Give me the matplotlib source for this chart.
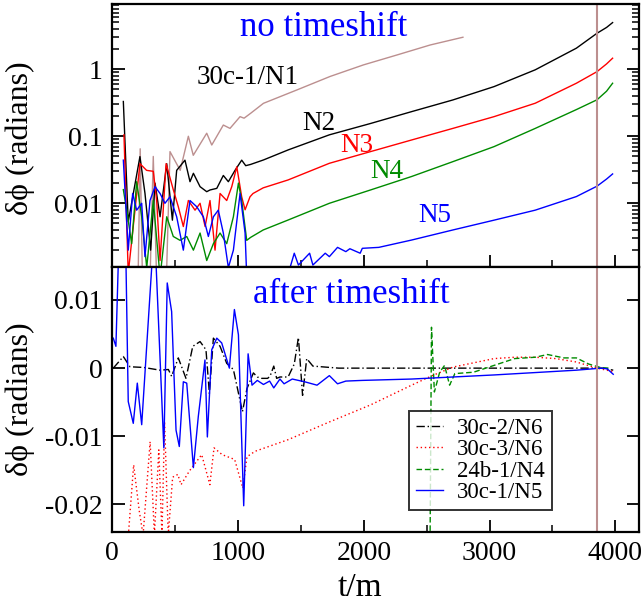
import matplotlib
matplotlib.use("Agg")
import matplotlib.pyplot as plt
from matplotlib.ticker import FixedLocator, NullFormatter, LogLocator, MultipleLocator

plt.rcParams['font.family'] = ['Liberation Serif', 'DejaVu Serif']
plt.rcParams['axes.unicode_minus'] = False

# ---- top panel: no timeshift (log scale) ----
t_n1 = [205, 222, 240, 300, 326, 353, 430, 459, 540, 605, 644, 751, 791, 883, 936, 1016, 1048, 1100,
        1202, 1467, 1732, 1997, 2263, 2528, 2788]
v_n1 = [0.0007, 0.065, 0.0007, 0.0007, 0.05, 0.0007, 0.0007, 0.059, 0.031, 0.1, 0.052, 0.111, 0.074,
        0.147, 0.131, 0.196, 0.186, 0.22, 0.31, 0.49, 0.78, 1.16, 1.63, 2.3, 3.0]

t_n2 = [88, 127, 220, 260, 305, 340, 380, 433, 478, 512, 578, 618, 645, 698, 751, 777, 831, 883, 923,
        976, 1029, 1061, 1100, 1202, 1398, 1726, 2053, 2380, 2708, 3035, 3363, 3690, 3854, 3930, 3978]
v_n2 = [0.33, 0.0053, 0.0497, 0.0141, 0.002, 0.02, 0.0063, 0.039, 0.0056, 0.031, 0.044, 0.021, 0.028,
        0.0177, 0.0149, 0.0158, 0.0167, 0.026, 0.021, 0.031, 0.044, 0.0364, 0.038, 0.0443, 0.0625, 0.105,
        0.155, 0.233, 0.348, 0.55, 0.98, 2.06, 3.44, 4.2, 4.96]

t_n3 = [93, 127, 220, 273, 326, 353, 380, 428, 485, 525, 565, 605, 658, 698, 738, 777, 817, 857, 910,
        950, 990, 1029, 1056, 1095, 1119, 1200, 1398, 1726, 2053, 2380, 2708, 3035, 3363, 3690, 3854,
        3930, 3978]
v_n3 = [0.105, 0.0009, 0.039, 0.031, 0.030, 0.011, 0.0014, 0.039, 0.016, 0.0089, 0.0045, 0.011, 0.0079,
        0.01, 0.0045, 0.011, 0.002, 0.014, 0.011, 0.0177, 0.035, 0.0125, 0.008, 0.0125, 0.014, 0.017,
        0.0223, 0.0395, 0.059, 0.088, 0.131, 0.196, 0.311, 0.618, 0.92, 1.2, 1.46]

t_n4 = [88, 115, 154, 194, 234, 274, 326, 380, 433, 485, 539, 592, 645, 698, 751, 804, 857, 910, 963,
        1003, 1029, 1069, 1100, 1200, 1398, 1726, 2053, 2380, 2708, 3035, 3363, 3690, 3854, 3930, 3978]
v_n4 = [0.016, 0.0079, 0.0025, 0.021, 0.0063, 0.0011, 0.011, 0.0008, 0.0063, 0.0032, 0.0028, 0.0032,
        0.002, 0.0036, 0.0014, 0.0025, 0.0036, 0.0025, 0.0063, 0.02, 0.011, 0.0028, 0.0031, 0.004,
        0.00563, 0.01, 0.0158, 0.0251, 0.0418, 0.07, 0.131, 0.25, 0.35, 0.47, 0.618]

t_n5 = [88, 127, 162, 194, 234, 260, 300, 340, 380, 419, 459, 512, 565, 618, 671, 724, 764, 804, 843,
        883, 923, 963, 1016, 1056, 1069, 1200, 1300, 1400, 1447, 1480, 1529, 1569, 1595, 1693, 1726,
        1791, 1857, 1889, 1971, 1988, 2119, 2380, 2708, 3035, 3363, 3690, 3854, 3930, 3978]
v_n5 = [0.044, 0.002, 0.014, 0.0079, 0.01, 0.0016, 0.011, 0.0177, 0.014, 0.01, 0.0125, 0.0063, 0.002,
        0.011, 0.0089, 0.0063, 0.0032, 0.0063, 0.0079, 0.0036, 0.0011, 0.002, 0.014, 0.0036, 0.0008,
        0.0009, 0.00105, 0.0009, 0.0018, 0.0012, 0.0015, 0.0018, 0.0012, 0.0018, 0.0016, 0.0022, 0.0019,
        0.0021, 0.0018, 0.00213, 0.0022, 0.00283, 0.004, 0.0056, 0.0079, 0.0126, 0.018, 0.023, 0.0274]

# ---- bottom panel: after timeshift ----
t_a = [8, 88, 141, 250, 380, 446, 472, 525, 586, 640, 698, 745, 772, 804, 857, 910, 963, 1035, 1071,
       1122, 1153, 1188, 1235, 1254, 1284, 1307, 1333, 1398, 1447, 1480, 1513, 1546, 1595, 1800, 2500,
       3000, 3500, 3900, 3983]
v_a = [0, 0.0017, 0.0002, 0.0001, -0.0003, -0.0002, -0.0012, 0.0015, -0.0015, 0.0032, 0.0039, 0.0027,
       -0.0037, 0.0044, 0.0032, 0.0007, -0.0002, -0.0064, -0.003, -0.0007, -0.0013, -0.0015, -0.0015,
       -0.0012, 0.0003, -0.0015, -0.0013, -0.0013, 0.0006, 0.0045, -0.004, 0.0014, 0.0003, 0.0, 0.0,
       0.0, 0.0, 0.0, -0.0003]

t_b = [128, 170, 215, 245, 301, 335, 370, 395, 416, 445, 480, 521, 547, 613, 711, 776, 809, 874, 973,
       1038, 1071, 1136, 1398, 1726, 2053, 2380, 2544, 2708, 3035, 3199, 3363, 3527, 3690, 3854, 3983]
v_b = [-0.0245, -0.0142, -0.021, -0.0245, -0.0108, -0.0245, -0.012, -0.0245, -0.0079, -0.0245, -0.016,
       -0.0156, -0.0171, -0.0151, -0.0127, -0.0171, -0.0117, -0.0127, -0.0134, -0.0176, -0.013, -0.0122,
       -0.0105, -0.0079, -0.0054, -0.0025, -0.0011, 0.00015, 0.0014, 0.0016, 0.0016, 0.0014, 0.0009,
       0.0, -0.0005]

t_c = [2525, 2538, 2561, 2603, 2642, 2682, 2724, 2872, 3035, 3199, 3363, 3461, 3590, 3690, 3788, 3880,
       3950]
v_c = [-0.03, 0.006, -0.0035, -0.0006, 0.0004, -0.0025, -0.0008, -0.0006, 0.0004, 0.0014, 0.0016, 0.002,
       0.0015, 0.0015, 0.0006, 0.0001, 0.0]

t_d = [8, 29, 55, 105, 127, 167, 199, 234, 335, 410, 437, 472, 507, 533, 565, 592, 645, 684, 737, 756,
       791, 831, 870, 931, 971, 1003, 1045, 1080, 1111, 1153, 1202, 1251, 1284, 1333, 1366, 1431, 1529,
       1628, 1726, 1791, 1857, 1988, 2380, 3035, 3690, 3886, 3935, 3983]
v_d = [0.0044, 0.0032, 0.02, 0.02, -0.0049, -0.0081, -0.0022, -0.0083, 0.021, -0.0117, 0.0125, 0.0083,
       -0.0091, -0.0115, -0.002, -0.0022, -0.0146, -0.0071, 0.0012, -0.0101, 0.0027, 0.0044, 0.0037, 0.0,
       0.0086, 0.0049, -0.0202, 0.0021, -0.0025, -0.0018, -0.0024, -0.0019, -0.0029, -0.0016, -0.0023,
       -0.0016, -0.002, -0.0025, -0.0011, -0.0023, -0.0019, -0.0018, -0.0016, -0.001, -0.0003, 0.0,
       -0.0001, -0.0009]

t_merger = 3853
brown = '#bc8f8f'
green = '#008b00'

fig = plt.figure(figsize=(6.43, 6.05), dpi=100)
ax1 = fig.add_axes([0.1746, 0.5582, 0.8196, 0.4347])
ax2 = fig.add_axes([0.1746, 0.1212, 0.8196, 0.4370])

lw = 1.0
ax1.plot(t_n1, v_n1, color=brown, lw=lw)
ax1.plot(t_n2, v_n2, color='black', lw=lw)
ax1.plot(t_n3, v_n3, color='red', lw=lw)
ax1.plot(t_n4, v_n4, color=green, lw=lw)
ax1.plot(t_n5, v_n5, color='blue', lw=lw)
ax1.axvline(t_merger, color=brown, lw=1.5)
ax1.set_yscale('log')
ax1.set_ylim(0.00111, 9.3)
ax1.set_xlim(0, 4190)

ax1.text(0.4017, 0.8806, 'no timeshift', color='blue', fontsize=25, ha='center', transform=ax1.transAxes)
ax1.text(0.2565, 0.697, '30c-1/N1', color='black', fontsize=19.5, ha='center', transform=ax1.transAxes)
ax1.text(0.392, 0.522, 'N2', color='black', fontsize=19.5, ha='center', transform=ax1.transAxes)
ax1.text(0.4643, 0.4395, 'N3', color='red', fontsize=19.5, ha='center', transform=ax1.transAxes)
ax1.text(0.520, 0.338, 'N4', color=green, fontsize=19.5, ha='center', transform=ax1.transAxes)
ax1.text(0.6127, 0.1734, 'N5', color='blue', fontsize=19.5, ha='center', transform=ax1.transAxes)

ax1.yaxis.set_major_locator(FixedLocator([0.01, 0.1, 1]))
ax1.yaxis.set_minor_locator(LogLocator(base=10, subs=range(2, 10), numticks=20))
ax1.yaxis.set_minor_formatter(NullFormatter())
ax1.set_yticklabels(['0.01', '0.1', '1'])
ax1.xaxis.set_major_locator(MultipleLocator(1000))
ax1.xaxis.set_minor_locator(MultipleLocator(500))
ax1.tick_params(axis='x', labelbottom=False)
ax1.set_ylabel('δϕ (radians)', fontsize=23)
ax1.yaxis.set_label_coords(-0.147, 0.49)

ax2.plot(t_a, v_a, color='black', lw=lw, ls=(0, (6, 2, 1, 2)), label='30c-2/N6')
ax2.plot(t_b, v_b, color='red', lw=lw, ls=(0, (1, 2)), label='30c-3/N6')
ax2.plot(t_c, v_c, color=green, lw=lw, ls=(0, (4, 2)), label='24b-1/N4')
ax2.plot(t_d, v_d, color='blue', lw=lw, label='30c-1/N5')
ax2.axvline(t_merger, color=brown, lw=1.5)
ax2.set_xlim(0, 4190)
ax2.set_ylim(-0.024, 0.0148)
ax2.yaxis.set_major_locator(FixedLocator([-0.02, -0.01, 0, 0.01]))
ax2.set_yticklabels(['-0.02', '-0.01', '0', '0.01'])
ax2.xaxis.set_major_locator(MultipleLocator(1000))
ax2.xaxis.set_minor_locator(MultipleLocator(500))
ax2.text(0.4539, 0.865, 'after timeshift', color='blue', fontsize=25, ha='center', transform=ax2.transAxes)
ax2.set_ylabel('δϕ (radians)', fontsize=23)
ax2.yaxis.set_label_coords(-0.147, 0.5)
ax2.set_xlabel('t/m', fontsize=24)
ax2.xaxis.set_label_coords(0.47, -0.155)

leg = ax2.legend(loc='upper left', bbox_to_anchor=(0.563, 0.4576), fontsize=16.5, frameon=True,
                 fancybox=False, borderaxespad=0, handlelength=1.2, labelspacing=0.02,
                 handletextpad=0.6, borderpad=0.3)
leg.get_frame().set_edgecolor('black')
leg.get_frame().set_linewidth(1.4)

for ax in (ax1, ax2):
    for s in ax.spines.values():
        s.set_linewidth(1.6)
    ax.tick_params(which='major', direction='in', length=9, width=1.3, labelsize=20, pad=7,
                   right=True, top=False)
    ax.tick_params(which='minor', direction='in', length=5, width=1.1, right=True, top=False)

fig.savefig('out.png', dpi=100)
